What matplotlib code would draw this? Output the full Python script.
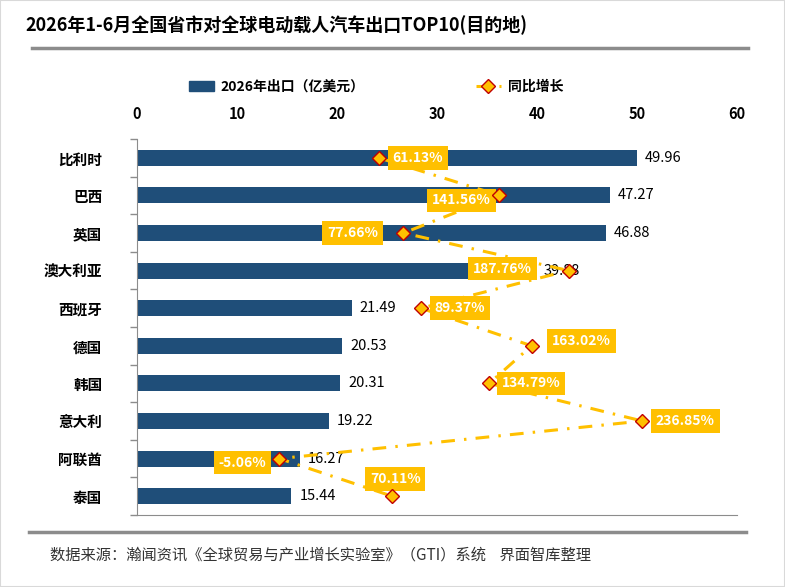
import numpy as np
import matplotlib.pyplot as plt
from matplotlib.patches import Patch, Rectangle
from matplotlib.lines import Line2D

plt.rcParams['font.family'] = ['Noto Sans CJK SC', 'DejaVu Sans']

countries = ['比利时', '巴西', '英国', '澳大利亚', '西班牙', '德国', '韩国', '意大利', '阿联酋', '泰国']
exports = [49.96, 47.27, 46.88, 39.88, 21.49, 20.53, 20.31, 19.22, 16.27, 15.44]
growth = [61.13, 141.56, 77.66, 187.76, 89.37, 163.02, 134.79, 236.85, -5.06, 70.11]

# where each growth label box sits relative to its marker (pixels)
label_offsets = [(39, 0), (-38, -5), (-51, 0), (-66, 2), (39, 0),
                 (50, 5), (42, 0), (43, 0), (-37, -4), (3, 17)]

bar_color = '#1F4E79'
gold = '#FFC000'
red = '#C00000'
gray = '#8C8C8C'
dashdot = (0, (4.5, 3, 0.8, 3))

fig = plt.figure(figsize=(7.85, 5.87), dpi=100)
W, H = 785, 587

# outer frame
fig.patches.append(Rectangle((0, 0), 1, 1, transform=fig.transFigure,
                             fill=False, ec='#D9D9D9', lw=1.5))

fig.text(25 / W, 1 - 25 / H, '2026年1-6月全国省市对全球电动载人汽车出口TOP10(目的地)',
         fontsize=13, fontweight='bold', va='center', ha='left')
fig.add_artist(Line2D([32 / W, 748 / W], [1 - 48 / H] * 2, color=gray, lw=2.5))
fig.add_artist(Line2D([29 / W, 746 / W], [1 - 532 / H] * 2, color=gray, lw=2.5))
fig.text(50 / W, 1 - 555 / H,
         '数据来源：瀚闻资讯《全球贸易与产业增长实验室》（GTI）系统    界面智库整理',
         fontsize=11, color='#333333', va='center', ha='left')

ax = fig.add_axes([137 / W, 1 - 515 / H, 600 / W, 376 / H])
ax2 = ax.twiny()

y = np.arange(len(countries))
ax.barh(y, exports, height=0.43, color=bar_color, zorder=2)
for yi, v in zip(y, exports):
    ax.text(v + 0.8, yi, f'{v:.2f}', va='center', ha='left', fontsize=10.5, zorder=3)

ax.set_xlim(0, 60)
ax.set_ylim(len(countries) - 0.5, -0.5)
ax.xaxis.tick_top()
ax.set_xticks(np.arange(0, 61, 10))
ax.tick_params(axis='x', length=0, pad=12, labelsize=10.5)
for t in ax.get_xticklabels():
    t.set_fontweight('bold')
ax.set_yticks(y)
ax.set_yticklabels(countries, fontsize=10.5, fontweight='bold')
ax.set_yticks(np.arange(-0.5, len(countries), 1), minor=True)
ax.tick_params(axis='y', which='major', length=0, pad=25)
ax.tick_params(axis='y', which='minor', length=5, color=gray, width=1)
for s in ['top', 'right']:
    ax.spines[s].set_visible(False)
ax.spines['left'].set_color(gray)
ax.spines['bottom'].set_color(gray)

ax2.set_xlim(-100, 300)
ax2.set_xticks([])
for s in ax2.spines.values():
    s.set_visible(False)
# line under the label boxes, diamonds on top
ax2.plot(growth, y, color=gold, lw=2.2, linestyle=dashdot, zorder=3)
ax2.plot(growth, y, linestyle='none', marker='D', markersize=7,
         markerfacecolor=gold, markeredgecolor=red, markeredgewidth=1, zorder=5)
for g, yi, (dx, dy) in zip(growth, y, label_offsets):
    ax2.annotate(f'{g:.2f}%', (g, yi), xytext=(dx, dy), textcoords='offset pixels',
                 ha='center', va='center', color='white', fontsize=10, fontweight='bold',
                 bbox=dict(boxstyle='square,pad=0.35', fc=gold, ec='none'), zorder=4)

handles = [Patch(color=bar_color),
           Line2D([], [], color=gold, lw=2.2, linestyle=dashdot, marker='D',
                  markersize=7, markerfacecolor=gold, markeredgecolor=red)]
fig.legend(handles, ['2026年出口（亿美元）', '同比增长'], ncol=2, frameon=False,
           loc='center', bbox_to_anchor=(376 / W, 1 - 87 / H), columnspacing=8,
           handlelength=1.8, handletextpad=0.5, prop={'size': 10, 'weight': 'bold'})

fig.savefig('out.png', dpi=100)
